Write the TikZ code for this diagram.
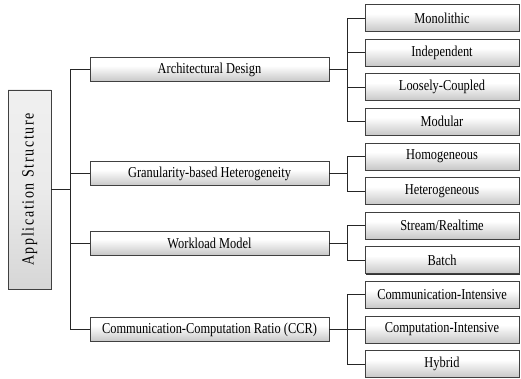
\documentclass[tikz,border=0pt]{standalone}
\usepackage{fontspec}
\setmainfont{Liberation Serif}
\newfontfamily\rootfont[LetterSpace=12]{Liberation Serif}
\usetikzlibrary{shadows}
\pgfdeclareverticalshading{boxsh}{100bp}{color(0bp)=(black!22); color(25bp)=(black!22); color(40bp)=(black!12); color(58bp)=(white); color(100bp)=(white)}
\pgfdeclareverticalshading{rootsh}{100bp}{color(0bp)=(black!16); color(25bp)=(black!16); color(50bp)=(black!8); color(75bp)=(black!6); color(100bp)=(black!6)}
\newcommand\tallt[1]{\scalebox{1}[1.22]{#1}}
\tikzset{
  box/.style={draw=black!75, line width=0.7pt, shading=boxsh,
    drop shadow={shadow xshift=0.6pt, shadow yshift=-0.8pt, fill=black!80, opacity=1},
    inner sep=0pt, font=\fontsize{12.4}{14}\selectfont},
  lvone/.style={box, minimum width=239pt, minimum height=24pt},
  lvtwo/.style={box, minimum width=154pt, minimum height=27pt},
  rootbox/.style={box, shading=rootsh, minimum width=43pt, minimum height=199pt},
  conn/.style={draw=black!85, line width=0.8pt},
}
\begin{document}
\begin{tikzpicture}[x=1pt,y=-1pt]
\useasboundingbox (0,0) rectangle (521,379);
% root
\node[rootbox] (root) at (29.5,189.5) {\rotatebox{90}{\tallt{\rootfont\fontsize{14}{16}\selectfont Application Structure}}};
% level one
\node[lvone] (arch) at (209.5,69.5) {\tallt{Architectural Design}};
\node[lvone] (gran) at (209.5,173.7) {\tallt{Granularity-based Heterogeneity}};
\node[lvone] (work) at (209.5,243) {\tallt{Workload Model}};
\node[lvone] (ccr) at (209.5,329.4) {\tallt{Communication-Computation Ratio (CCR)}};
% level two
\node[lvtwo] (mono) at (442,18) {\tallt{Monolithic}};
\node[lvtwo] (indep) at (442,52.6) {\tallt{Independent}};
\node[lvtwo] (loose) at (442,87.2) {\tallt{Loosely-Coupled}};
\node[lvtwo] (modu) at (442,121.8) {\tallt{Modular}};
\node[lvtwo] (homo) at (442,156.4) {\tallt{Homogeneous}};
\node[lvtwo] (hete) at (442,191) {\tallt{Heterogeneous}};
\node[lvtwo] (strm) at (442,225.6) {\tallt{Stream/Realtime}};
\node[lvtwo] (batch) at (442,260.2) {\tallt{Batch}};
\node[lvtwo] (comm) at (442,294.8) {\tallt{Communication-Intensive}};
\node[lvtwo] (comp) at (442,329.4) {\tallt{Computation-Intensive}};
\node[lvtwo] (hyb) at (442,364) {\tallt{Hybrid}};
% trunk
\coordinate (tr) at (70,189.5);
\draw[conn] (root.east) -- (tr);
\foreach \n in {arch,gran,work,ccr}{
  \draw[conn] (\n.west) -- (\n.west -| tr) -- (tr);
}
% branches
\coordinate (bx) at (347,0);
\foreach \p/\l in {arch/{mono,indep,loose,modu},gran/{homo,hete},work/{strm,batch},ccr/{comm,comp,hyb}}{
  \draw[conn] (\p.east) -- (\p.east -| bx);
  \foreach \c in \l {
    \draw[conn] (\c.west) -- (\c.west -| bx) -- (\p.east -| bx);
  }
}
\end{tikzpicture}
\end{document}
